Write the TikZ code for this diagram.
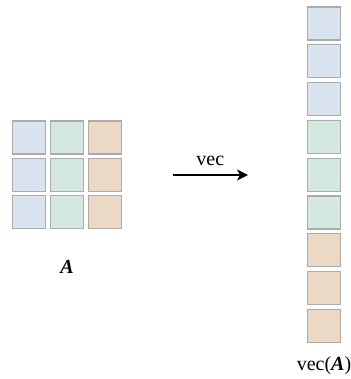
\documentclass[tikz,border=0pt]{standalone}
\usepackage{fontspec}
\setmainfont{Liberation Serif}
\usetikzlibrary{positioning,arrows.meta}

\definecolor{cellblue}{HTML}{DAE3F0}
\definecolor{cellgreen}{HTML}{D5E8E0}
\definecolor{cellorange}{HTML}{EBD9C6}
\definecolor{cellgray}{HTML}{ABABAB}

\tikzset{
    cell/.style={draw=cellgray, line width=1.2pt, minimum size=33pt, inner sep=0pt},
}

\begin{document}
\begin{tikzpicture}[x=1pt, y=-1pt, font=\fontsize{20}{24}\selectfont]
    \useasboundingbox (0,0) rectangle (350,379);
    % the 3x3 matrix, column by column
    \foreach \c/\col in {0/cellblue, 1/cellgreen, 2/cellorange}
        \foreach \r in {0,1,2}
            \node [cell, fill=\col] (a\r\c) at (29+38*\c, 137.5+37.2*\r) {};
    \node (lblA) at (67,267) {\textbf{\textit{A}}};
    % the map
    \coordinate (arrS) at (172.5,175);
    \coordinate (arrE) at (248,175);
    \draw [line width=1.4pt, -{Stealth[length=11pt, width=11pt, inset=3pt]}]
        (arrS) -- node [above=5pt] (lblvec) {vec} (arrE);
    % the stacked columns
    \foreach \i/\col in {0/cellblue, 1/cellblue, 2/cellblue,
                         3/cellgreen, 4/cellgreen, 5/cellgreen,
                         6/cellorange, 7/cellorange, 8/cellorange}
        \node [cell, fill=\col] (v\i) at (324, 23.5+37.8*\i) {};
    \node (lblvecA) at (324,366) {vec(\textbf{\textit{A}})};
\end{tikzpicture}
\end{document}
